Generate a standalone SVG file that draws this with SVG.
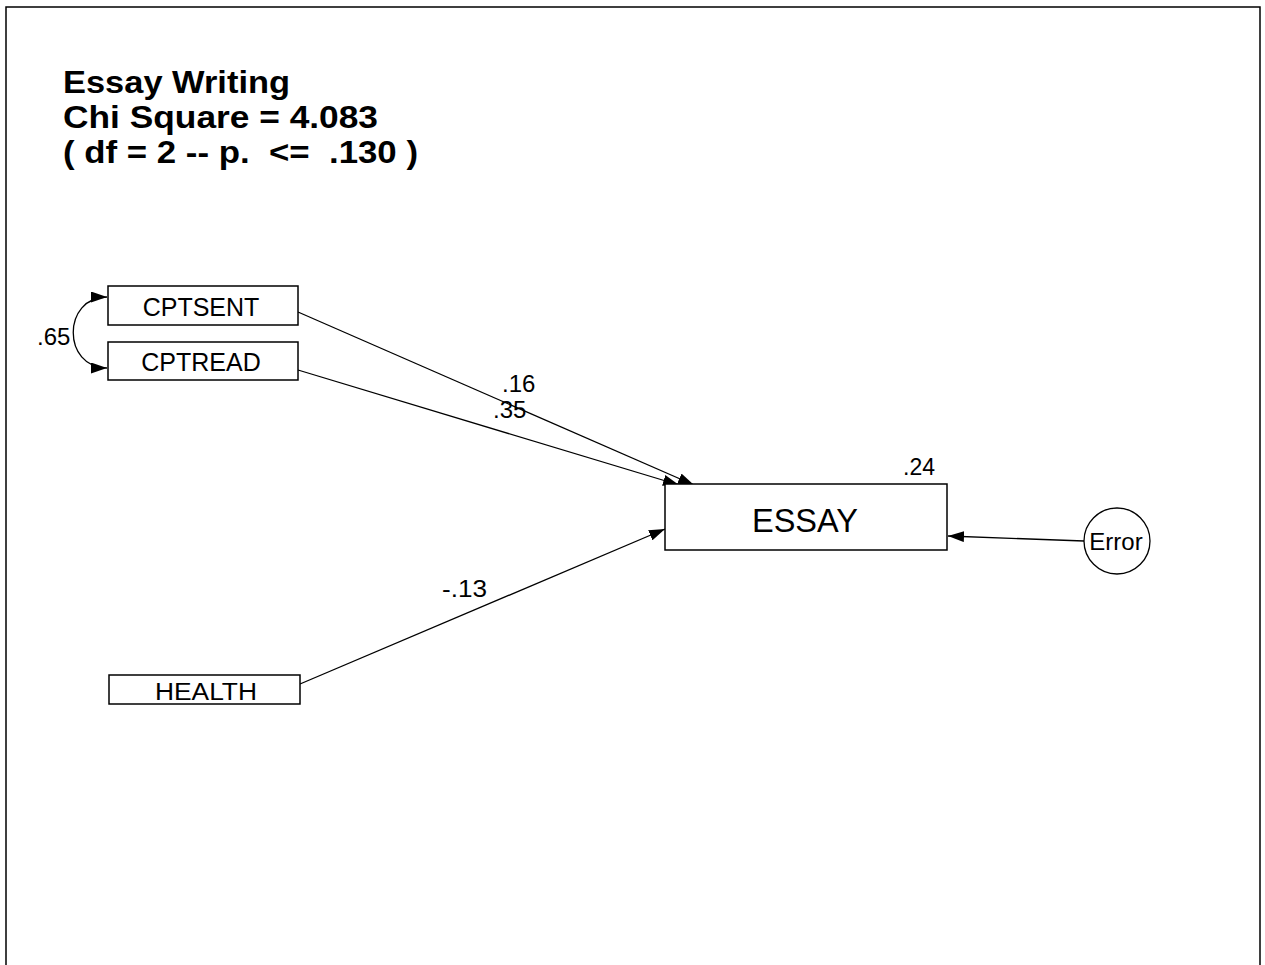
<svg xmlns="http://www.w3.org/2000/svg" width="1265" height="965" viewBox="0 0 1265 965">
<style>
.box{fill:#fff;stroke:#000;stroke-width:1.5}
.lbl{font-family:"Liberation Sans",Arial,sans-serif;fill:#000}
.title{font-family:"Liberation Sans",Arial,sans-serif;font-weight:bold;font-size:32px;fill:#000}
.edge{stroke:#000;stroke-width:1.3;fill:none;marker-end:url(#ah)}
</style>
<defs>
<marker id="ah" viewBox="0 0 16 11" refX="16" refY="5.5" markerWidth="16" markerHeight="11" markerUnits="userSpaceOnUse" orient="auto-start-reverse">
<path d="M0,0 L16,5.5 L0,11 Z" fill="#000"/>
</marker>
</defs>
<rect width="1265" height="965" fill="#fff"/>
<path d="M6,965 V7 H1260 V965" fill="none" stroke="#000" stroke-width="1.5"/>
<g id="title">
<text class="title" x="63" y="93" textLength="227" lengthAdjust="spacingAndGlyphs">Essay Writing</text>
<text class="title" x="63" y="128" textLength="315" lengthAdjust="spacingAndGlyphs">Chi Square = 4.083</text>
<text class="title" x="63" y="163" textLength="355" lengthAdjust="spacingAndGlyphs" xml:space="preserve">( df = 2 -- p.  &lt;=  .130 )</text>
</g>
<g id="connectors">
<path class="edge" d="M298,312 L694,485"/>
<path class="edge" d="M298,370 L679,485"/>
<path class="edge" d="M300,684 L665,529"/>
<path class="edge" d="M1084,541 L948,536"/>
<path class="edge" d="M107,368 C62,368 62,297 107,297" style="marker-start:url(#ah)"/>
<text class="lbl" x="502" y="392" font-size="24">.16</text>
<text class="lbl" x="493" y="418" font-size="24">.35</text>
<text class="lbl" x="442" y="597" font-size="24" textLength="45" lengthAdjust="spacingAndGlyphs">-.13</text>
<text class="lbl" x="37" y="345" font-size="24">.65</text>
</g>
<g id="CPTSENT">
<rect class="box" x="108" y="286" width="190" height="39"/>
<text class="lbl" x="201" y="316" font-size="25" text-anchor="middle">CPTSENT</text>
</g>
<g id="CPTREAD">
<rect class="box" x="108" y="342" width="190" height="38"/>
<text class="lbl" x="201" y="371" font-size="25" text-anchor="middle">CPTREAD</text>
</g>
<g id="HEALTH">
<rect class="box" x="109" y="675" width="191" height="29"/>
<text class="lbl" x="206" y="700" font-size="23" text-anchor="middle" textLength="102" lengthAdjust="spacingAndGlyphs">HEALTH</text>
</g>
<g id="ESSAY">
<rect class="box" x="665" y="484" width="282" height="66"/>
<text class="lbl" x="805" y="532" font-size="33" text-anchor="middle" textLength="106" lengthAdjust="spacingAndGlyphs">ESSAY</text>
<text class="lbl" x="903" y="475" font-size="23">.24</text>
</g>
<g id="Error">
<circle cx="1117" cy="541" r="33" fill="#fff" stroke="#000" stroke-width="1.3"/>
<text class="lbl" x="1116" y="550" font-size="24" text-anchor="middle">Error</text>
</g>
</svg>
